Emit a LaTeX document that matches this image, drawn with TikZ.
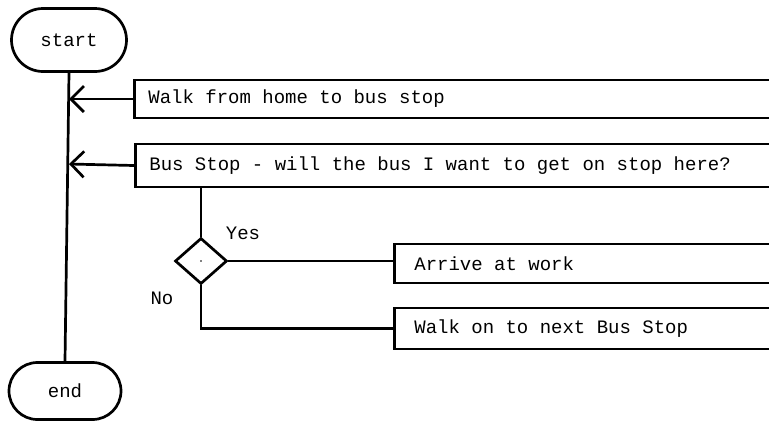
\documentclass[tikz,border=0pt]{standalone}
\usepackage{fontspec}
\setmonofont{Liberation Mono}
\usetikzlibrary{arrows.meta,shapes.geometric,shapes.misc}

% fixed-pitch text; each word gap is one full character cell
\newcommand{\flowfont}{\ttfamily\fontsize{19}{22}\selectfont}
\newcommand{\cell}{\hspace*{0.6em}}

\begin{document}
\begin{tikzpicture}[x=1pt, y=-1pt, line width=2.7pt,
  every node/.style={font=\flowfont},
  term/.style={draw, rounded rectangle, inner sep=0pt},
  openbox/.style={draw, rectangle, anchor=west, align=left,
    text width=700pt, inner ysep=0pt},
  decision/.style={draw, diamond, inner sep=0pt, minimum width=52pt, minimum height=46pt},
  flow/.style={-{Straight Barb[length=13pt,width=26pt]}},
  lbl/.style={inner sep=0pt}
]
\useasboundingbox (0,0) rectangle (769,429);
\clip (0,0) rectangle (769,429);

% terminals
\node[term, minimum width=115pt, minimum height=63pt] (start) at (69,40) {start};
\node[term, minimum width=112pt, minimum height=57pt] (end) at (65,391) {end};

% process boxes, open towards the right
\node[openbox, inner xsep=14pt, minimum height=38pt] (b1) at (133,99)
  {Walk\cell from\cell home\cell to\cell bus\cell stop};
\node[openbox, inner xsep=14pt, minimum height=43pt] (b2) at (134,165.5)
  {Bus\cell Stop\cell -\cell will\cell the\cell bus\cell I\cell want\cell to\cell get\cell on\cell stop\cell here?};
\node[openbox, inner xsep=20pt, minimum height=39pt] (b3) at (393,263.5)
  {Arrive\cell at\cell work};
\node[openbox, inner xsep=20pt, minimum height=41pt] (b4) at (393,328.5)
  {Walk\cell on\cell to\cell next\cell Bus\cell Stop};

% decision
\node[decision] (d) at (201,261) {};
\fill (d.center) circle (0.9pt);
\node[lbl] (yes) at (243,233) {Yes};
\node[lbl] (no) at (162,298) {No};

% main spine
\draw (start.south) -- (end.north);

% flows into the spine
\draw[flow] (b1.west) -- (b1.west -| start.south);
\draw[flow] (b2.west) -- ([yshift=1.5pt]b2.west -| start.south);

% decision branches
\draw (d.north) -- (d.north |- b2.south);
\draw (d.east) -- (b3.west |- d.east);
\draw (d.south) |- (b4.west);
\end{tikzpicture}
\end{document}
